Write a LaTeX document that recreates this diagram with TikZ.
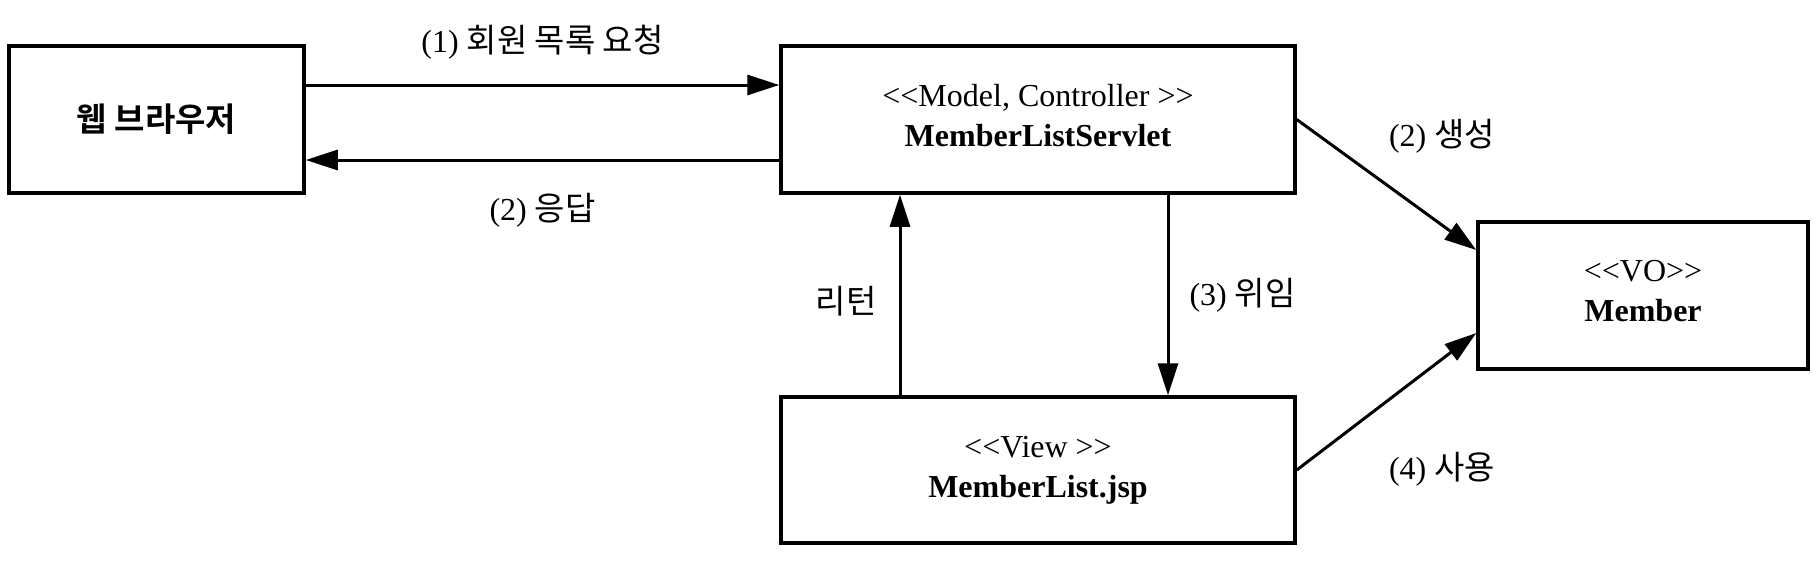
\documentclass[tikz,border=0pt]{standalone}
\usepackage{fontspec}
\setmainfont{Liberation Serif}[Ligatures=TeXOff]
\newfontfamily\kr{Noto Sans CJK KR}[Scale=1.03,BoldFont={Noto Sans CJK KR Bold}]
\usetikzlibrary{arrows.meta}
\begin{document}
\begin{tikzpicture}[x=0.5pt,y=-0.5pt,
  box/.style={draw,line width=1.75pt,align=center,inner sep=0pt,
    font=\fontsize{16}{20}\selectfont},
  conn/.style={line width=1.5pt,-{Triangle[length=16pt,width=10pt]}},
  lbl/.style={inner sep=0pt,font=\fontsize{16}{20}\selectfont}]
\useasboundingbox (0,0) rectangle (1820,562);
\node[box,minimum width=147.5pt,minimum height=73.5pt] (browser) at (156.5,119.5) {{\kr\bfseries 웹 브라우저}};
\node[box,text depth=4.5pt,minimum width=257pt,minimum height=73.5pt] (servlet) at (1038,119.5) {<<Model, Controller >>\\\textbf{MemberListServlet}};
\node[box,minimum width=257pt,minimum height=73pt] (view) at (1038,470) {<<View >>\\\textbf{MemberList.jsp}};
\node[box,text depth=4.5pt,minimum width=165pt,minimum height=73.5pt] (member) at (1643,295.5) {<<VO>>\\\textbf{Member}};
\draw[conn] ([yshift=17.25pt]browser.east) -- ([yshift=17.25pt]servlet.west)
  node[lbl,midway,above=12pt] (l1) {(1) {\kr 회원 목록 요청}};
\draw[conn] ([yshift=-20.25pt]servlet.west) -- ([yshift=-20.25pt]browser.east)
  node[lbl,midway,below=16pt] (l2) {(2) {\kr 응답}};
\draw[conn] ([xshift=65pt]servlet.south) -- ([xshift=65pt]view.north)
  node[lbl,midway,right=10pt] (l3) {(3) {\kr 위임}};
\draw[conn] ([xshift=-69pt]view.north) -- ([xshift=-69pt]servlet.south)
  node[lbl,pos=0.47,left=11pt] (l4) {\kr 리턴};
\draw[conn] (servlet.east) -- ([yshift=22.75pt]member.west);
\node[lbl] (l5) at (1442,136) {(2) {\kr 생성}};
\draw[conn] (view.east) -- ([yshift=-18.75pt]member.west);
\node[lbl] (l6) at (1442,469) {(4) {\kr 사용}};
\end{tikzpicture}
\end{document}
